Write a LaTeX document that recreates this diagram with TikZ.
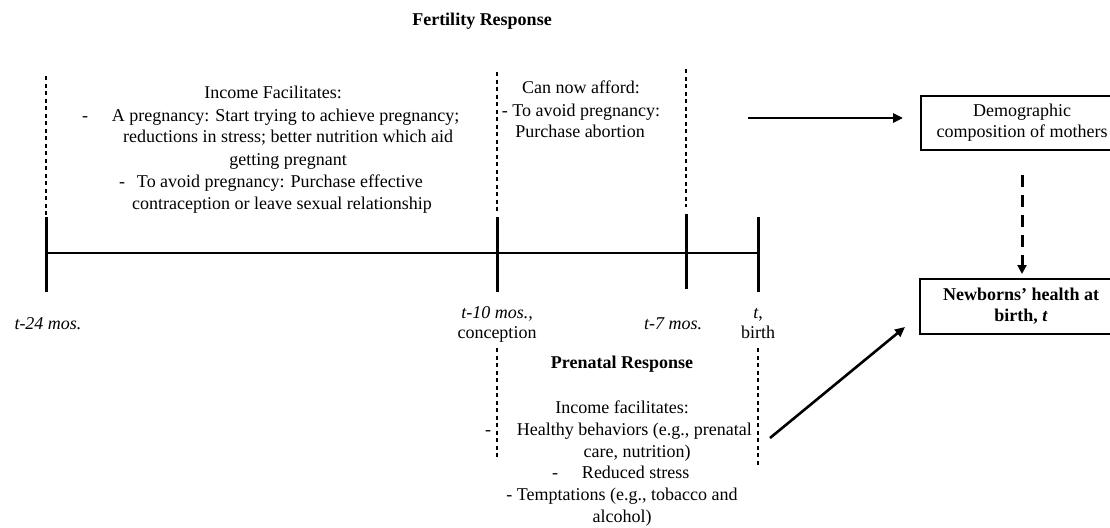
\documentclass[tikz,border=0pt]{standalone}
\usepackage{fontspec}
\setmainfont{Liberation Serif}
\usetikzlibrary{arrows.meta}
\begin{document}
\begin{tikzpicture}[x=1pt,y=-1pt,
  every node/.style={inner sep=0pt,outer sep=0pt,font=\fontsize{18}{21}\selectfont},
  txt/.style={anchor=base},
  txtw/.style={anchor=base west},
  tl/.style={line width=2.4pt},
  tick/.style={line width=3pt},
  guide/.style={line width=1.3pt,dash pattern=on 4pt off 3.5pt},
  boxnode/.style={draw,line width=1.4pt,align=center,minimum width=202pt,minimum height=55pt},
  arr/.style={line width=2.6pt,-{Triangle[length=10pt,width=9pt]}},
  darr/.style={line width=3pt,dash pattern=on 12pt off 8pt,-{Triangle[length=9pt,width=9pt]}}
]
\useasboundingbox (0,0) rectangle (1110,527);

% title
\node[txt,font=\fontsize{18}{21}\selectfont\bfseries] (fert) at (482,26) {Fertility Response};

% timeline
\coordinate (T24) at (46,253);
\coordinate (T10) at (497,253);
\coordinate (T7) at (686,253);
\coordinate (T0) at (758,253);
\draw[tl] (T24) -- (T0);
\draw[tick] (46,217) -- (46,292);
\draw[tick] (497,217) -- (497,292);
\draw[tick] (686,214) -- (686,289);
\draw[tick] (758,217) -- (758,292);

% dashed guides
\draw[guide] (46,76) -- (46,215);
\draw[guide] (497,72) -- (497,212);
\draw[guide] (686,69) -- (686,207);
\draw[guide] (497,348) -- (497,458);
\draw[guide] (758,348) -- (758,465);

% top left block
\node[txt] (f1) at (273,98) {Income Facilitates:};
\node[txtw] (f2) at (82,121) {\makebox[30pt][l]{-}A pregnancy: Start trying to achieve pregnancy;};
\node[txt] (f3) at (288,142) {reductions in stress; better nutrition which aid};
\node[txt] (f4) at (288,165) {getting pregnant};
\node[txtw] (f5) at (119,187) {\makebox[18pt][l]{-}To avoid pregnancy: Purchase effective};
\node[txt] (f6) at (282,209) {contraception or leave sexual relationship};

% top middle block
\node[txt] (c1) at (581,93) {Can now afford:};
\node[txt] (c2) at (581,116) {- To avoid pregnancy:};
\node[txt] (c3) at (580,137) {Purchase abortion};

% timeline labels
\node[txt] (l24) at (48,329) {\itshape t-24 mos.};
\node[txt] (l10) at (497,318) {\itshape t-10 mos.,};
\node[txt] (l10b) at (497,338) {conception};
\node[txt] (l7) at (673,329) {\itshape t-7 mos.};
\node[txt] (l0) at (758,318) {\textit{t},};
\node[txt] (l0b) at (758,338) {birth};

% prenatal block
\node[txt,font=\fontsize{18}{21}\selectfont\bfseries] (pr) at (622,368) {Prenatal Response};
\node[txt] (p1) at (622,413) {Income facilitates:};
\node[txtw] (p2) at (485,435) {\makebox[32pt][l]{-}Healthy behaviors (e.g., prenatal};
\node[txt] (p3) at (637,457) {care, nutrition)};
\node[txtw] (p4) at (552,478) {\makebox[30pt][l]{-}Reduced stress};
\node[txt] (p5) at (622,500) {- Temptations (e.g., tobacco and};
\node[txt] (p6) at (622,522) {alcohol)};

% boxes
\node[boxnode,minimum height=54pt] (demog) at (1022,123) {Demographic\\composition of mothers};
\node[boxnode,font=\fontsize{18}{21}\selectfont\bfseries] (newb) at (1021,306.5) {Newborns’ health at\\birth, \textit{t}};

% arrows
\coordinate (a1s) at (748,118);
\draw[arr,shorten >=18pt] (a1s) -- (demog.west |- a1s);
\draw[darr,shorten <=25pt,shorten >=5pt] (demog.south) -- (demog.south |- newb.north);
\coordinate (d1s) at (770,438);
\coordinate (d1e) at (905,327);
\draw[arr] (d1s) -- (d1e);
\end{tikzpicture}
\end{document}
